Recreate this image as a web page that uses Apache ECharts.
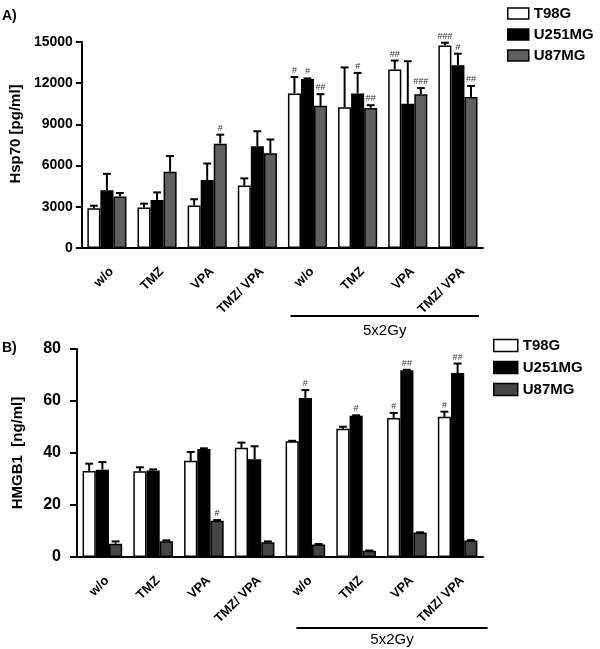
<!DOCTYPE html>
<html>
<head>
<meta charset="utf-8">
<script src="https://cdn.jsdelivr.net/npm/echarts@6/dist/echarts.min.js"></script>
<style>html,body{margin:0;padding:0;background:#fff}#c{width:600px;height:649px}</style>
</head>
<body>
<div id="c"></div>
<script>
// ---- data ----
const categories = ['w/o', 'TMZ', 'VPA', 'TMZ/ VPA', 'w/o', 'TMZ', 'VPA', 'TMZ/ VPA'];
const seriesNames = ['T98G', 'U251MG', 'U87MG'];

// Panel A: Hsp70 [pg/ml]
const hspT98G   = [2900, 2950, 3100, 4550, 11250, 10250, 13000, 14750];
const hspU251MG = [4200, 3500, 4950, 7400, 12300, 11250, 10500, 13300];
const hspU87MG  = [3750, 5550, 7600, 6900, 10350, 10200, 11200, 11000];
const hspErrT98G   = [180, 280, 450, 520, 1200, 2900, 650, 200];
const hspErrU251MG = [1200, 550, 1200, 1100, 50, 1500, 3100, 850];
const hspErrU87MG  = [250, 1150, 650, 1000, 850, 200, 450, 800];
const hspSigT98G   = ['', '', '', '', '#', '', '##', '###'];
const hspSigU251MG = ['', '', '', '', '#', '#', '', '#'];
const hspSigU87MG  = ['', '', '#', '', '##', '##', '###', '##'];
const hspTicks = [0, 3000, 6000, 9000, 12000, 15000];

// Panel B: HMGB1 [ng/ml]
const hmgT98G   = [33.1, 33.0, 37.0, 42.0, 44.5, 49.3, 53.5, 53.9];
const hmgU251MG = [33.6, 33.3, 41.5, 37.6, 61.2, 54.3, 71.8, 70.8];
const hmgU87MG  = [5.1, 6.1, 13.9, 5.7, 4.8, 2.4, 9.4, 6.3];
const hmgErrT98G   = [2.8, 1.5, 3.4, 2.0, 0.2, 0.8, 1.9, 2.0];
const hmgErrU251MG = [2.9, 0.4, 0.3, 5.0, 3.0, 0.2, 0.2, 3.6];
const hmgErrU87MG  = [0.9, 0.3, 0.3, 0.3, 0.2, 0.1, 0.1, 0.2];
const hmgSigT98G   = ['', '', '', '', '', '', '#', '#'];
const hmgSigU251MG = ['', '', '', '', '#', '#', '##', '##'];
const hmgSigU87MG  = ['', '', '#', '', '', '', '', ''];
const hmgTicks = [0, 20, 40, 60, 80];

// ---- styling ----
const FONT = '"Liberation Sans", Arial, sans-serif';
const CAT_GAP = 0.22;
const colorsA = ['#ffffff', '#000000', '#606060'];
const colorsB = ['#ffffff', '#000000', '#454545'];

function barSeries(name, data, color, axis) {
  return {
    name: name, type: 'bar', data: data,
    xAxisIndex: axis, yAxisIndex: axis,
    barGap: '0%', barCategoryGap: (CAT_GAP * 100) + '%',
    itemStyle: { color: color, borderColor: '#000', borderWidth: 1.5 },
    emphasis: { disabled: true },
    animation: false
  };
}

function errSeries(idx, means, errs, sig, axis) {
  return {
    name: 'err' + axis + '_' + idx, type: 'custom',
    xAxisIndex: axis, yAxisIndex: axis, z: 5,
    data: means.map((m, i) => [i, m, m + errs[i]]),
    encode: { x: 0, y: [1, 2] },
    animation: false, silent: true,
    renderItem: function (params, api) {
      const cat = api.value(0), m = api.value(1), t = api.value(2);
      const band = api.size([1, 0])[0];
      const bw = band * (1 - CAT_GAP) / 3;
      const off = (idx - 1) * bw;
      const p0 = api.coord([cat, m]);
      const p1 = api.coord([cat, t]);
      const x = p0[0] + off;
      const cap = bw * 0.3;
      const children = [
        { type: 'line', shape: { x1: x, y1: p0[1], x2: x, y2: p1[1] }, style: { stroke: '#000', lineWidth: 2 } },
        { type: 'line', shape: { x1: x - cap, y1: p1[1], x2: x + cap, y2: p1[1] }, style: { stroke: '#000', lineWidth: 2 } }
      ];
      const s = sig[params.dataIndex];
      if (s) {
        children.push({ type: 'text', style: { text: s, x: x, y: p1[1] - 2, align: 'center', verticalAlign: 'bottom', fontSize: 9, fontFamily: FONT, fill: '#333' } });
      }
      return { type: 'group', children: children };
    }
  };
}

function xAxisCfg(grid, fontSize, margin) {
  return {
    type: 'category', gridIndex: grid, data: categories,
    axisLine: { lineStyle: { color: '#000', width: 2 } },
    axisTick: { alignWithLabel: true, length: 6, lineStyle: { color: '#000', width: 2 } },
    axisLabel: { rotate: 45, margin: margin, verticalAlign: 'top', color: '#000', fontWeight: 'bold', fontSize: fontSize, fontFamily: FONT, interval: 0 },
    splitLine: { show: false }
  };
}

function yAxisCfg(grid, ticks, name, nameGap, namePad, fontSize, tickLen, margin) {
  return {
    type: 'value', gridIndex: grid,
    min: ticks[0], max: ticks[ticks.length - 1], interval: ticks[1] - ticks[0],
    name: name, nameLocation: 'middle', nameGap: nameGap,
    nameTextStyle: { color: '#000', fontWeight: 'bold', fontSize: 15, fontFamily: FONT, padding: namePad },
    axisLine: { show: true, lineStyle: { color: '#000', width: 2 } },
    axisTick: { show: true, length: tickLen, lineStyle: { color: '#000', width: 2 } },
    axisLabel: { color: '#000', fontWeight: 'bold', fontSize: fontSize, fontFamily: FONT, margin: margin,
      formatter: function (v) { return String(v); } },
    splitLine: { show: false }
  };
}

const option = {
  backgroundColor: '#fff',
  animation: false,
  grid: [
    { left: 81, right: 117, top: 42, height: 206 },
    { left: 77, right: 117, top: 349, height: 208 }
  ],
  xAxis: [xAxisCfg(0, 13, 17), xAxisCfg(1, 13, 17)],
  yAxis: [
    yAxisCfg(0, hspTicks, 'Hsp70 [pg/ml]', 57, [0, 0, 0, 22], 14, 6, 9),
    yAxisCfg(1, hmgTicks, 'HMGB1  [ng/ml]', 52, [0, 0, 0, 0], 16, 7, 16)
  ],
  legend: [
    {
      left: 502, top: 1, orient: 'vertical', itemWidth: 21, itemHeight: 11, itemGap: 6,
      icon: 'rect', selectedMode: false,
      textStyle: { color: '#000', fontWeight: 'bold', fontSize: 15, fontFamily: FONT },
      data: [
        { name: 'T98G', itemStyle: { color: '#fff', borderColor: '#000', borderWidth: 1.5 } },
        { name: 'U251MG', itemStyle: { color: '#000', borderColor: '#000', borderWidth: 1.5 } },
        { name: 'U87MG', itemStyle: { color: colorsA[2], borderColor: '#000', borderWidth: 1.5 } }
      ]
    },
    {
      left: 488, top: 333, orient: 'vertical', itemWidth: 24, itemHeight: 12, itemGap: 7,
      icon: 'rect', selectedMode: false,
      textStyle: { color: '#000', fontWeight: 'bold', fontSize: 15, fontFamily: FONT },
      data: [
        { name: 'T98G', itemStyle: { color: '#fff', borderColor: '#000', borderWidth: 1.5 } },
        { name: 'U251MG', itemStyle: { color: '#000', borderColor: '#000', borderWidth: 1.5 } },
        { name: 'U87MG', itemStyle: { color: colorsB[2], borderColor: '#000', borderWidth: 1.5 } }
      ]
    }
  ],
  series: [
    barSeries('T98G', hspT98G, colorsA[0], 0),
    barSeries('U251MG', hspU251MG, colorsA[1], 0),
    barSeries('U87MG', hspU87MG, colorsA[2], 0),
    errSeries(0, hspT98G, hspErrT98G, hspSigT98G, 0),
    errSeries(1, hspU251MG, hspErrU251MG, hspSigU251MG, 0),
    errSeries(2, hspU87MG, hspErrU87MG, hspSigU87MG, 0),
    barSeries('T98G', hmgT98G, colorsB[0], 1),
    barSeries('U251MG', hmgU251MG, colorsB[1], 1),
    barSeries('U87MG', hmgU87MG, colorsB[2], 1),
    errSeries(0, hmgT98G, hmgErrT98G, hmgSigT98G, 1),
    errSeries(1, hmgU251MG, hmgErrU251MG, hmgSigU251MG, 1),
    errSeries(2, hmgU87MG, hmgErrU87MG, hmgSigU87MG, 1)
  ]
};

const chart = echarts.init(document.getElementById('c'), null, { renderer: 'canvas' });
chart.setOption(option);

// Panel labels and the "5x2Gy" brackets, positioned from the axes
function bracket(axis, yPix, leftOff, rightOff, textY) {
  const x0 = chart.convertToPixel({ xAxisIndex: axis }, 4) + leftOff;
  const x1 = chart.convertToPixel({ xAxisIndex: axis }, 7) + rightOff;
  return [
    { type: 'line', shape: { x1: x0, y1: yPix, x2: x1, y2: yPix }, style: { stroke: '#000', lineWidth: 2 } },
    { type: 'text', style: { text: '5x2Gy', x: (x0 + x1) / 2, y: textY, align: 'center', verticalAlign: 'middle', fontSize: 15, fontFamily: FONT, fill: '#000' } }
  ];
}
chart.setOption({
  graphic: [
    { type: 'text', style: { text: 'A)', x: 2, y: 16, verticalAlign: 'middle', fontSize: 14, fontWeight: 'bold', fontFamily: FONT, fill: '#000' } },
    { type: 'text', style: { text: 'B)', x: 2, y: 348, verticalAlign: 'middle', fontSize: 14, fontWeight: 'bold', fontFamily: FONT, fill: '#000' } }
  ].concat(bracket(0, 316, -17, 21, 331)).concat(bracket(1, 628, -9, 30, 640))
});
</script>
</body>
</html>
